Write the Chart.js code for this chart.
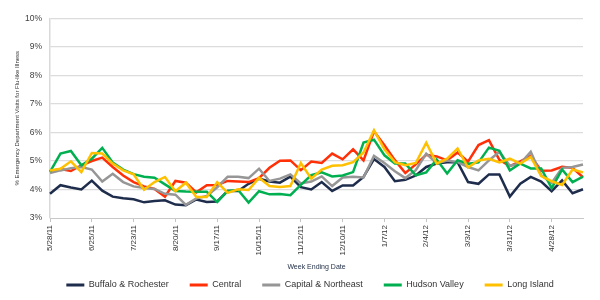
<!DOCTYPE html>
<html>
<head>
<meta charset="utf-8">
<script src="https://cdn.jsdelivr.net/npm/chart.js@4.4.1/dist/chart.umd.min.js"></script>
<style>
  html, body { margin: 0; padding: 0; background: #fff; }
</style>
</head>
<body>
<canvas id="fluChart" width="600" height="300"></canvas>
<script>
// week ending dates (one point per week)
const weeks = [
  '5/28/11', '6/4/11', '6/11/11', '6/18/11', '6/25/11', '7/2/11', '7/9/11', '7/16/11',
  '7/23/11', '7/30/11', '8/6/11', '8/13/11', '8/20/11', '8/27/11', '9/3/11', '9/10/11',
  '9/17/11', '9/24/11', '10/1/11', '10/8/11', '10/15/11', '10/22/11', '10/29/11', '11/5/11',
  '11/12/11', '11/19/11', '11/26/11', '12/3/11', '12/10/11', '12/17/11', '12/24/11', '12/31/11',
  '1/7/12', '1/14/12', '1/21/12', '1/28/12', '2/4/12', '2/11/12', '2/18/12', '2/25/12',
  '3/3/12', '3/10/12', '3/17/12', '3/24/12', '3/31/12', '4/7/12', '4/14/12', '4/21/12',
  '4/28/12', '5/5/12', '5/12/12', '5/19/12'
];

// % of ED visits for flu-like illness, by region
const buffaloRochester = [3.85, 4.15, 4.07, 4.0, 4.31, 3.96, 3.75, 3.69, 3.66, 3.55, 3.6, 3.62, 3.47, 3.45, 3.65, 3.56, 3.58, 3.95, 3.95, 4.2, 4.38, 4.28, 4.24, 4.45, 4.08, 4.0, 4.26, 3.95, 4.14, 4.14, 4.44, 5.07, 4.79, 4.29, 4.34, 4.49, 4.79, 4.91, 4.96, 4.96, 4.26, 4.2, 4.53, 4.53, 3.75, 4.2, 4.44, 4.28, 3.94, 4.32, 3.87, 4.01];
const central = [4.64, 4.72, 4.65, 4.85, 5.0, 5.12, 4.79, 4.49, 4.26, 4.11, 4.02, 3.75, 4.3, 4.24, 3.9, 4.15, 4.16, 4.3, 4.28, 4.26, 4.4, 4.76, 5.01, 5.02, 4.68, 4.98, 4.93, 5.26, 5.06, 5.41, 5.02, 6.04, 5.55, 5.03, 4.58, 4.88, 5.22, 5.16, 5.02, 5.3, 4.98, 5.56, 5.73, 5.04, 4.82, 4.99, 5.18, 4.66, 4.67, 4.8, 4.76, 4.43];
const capitalNortheast = [4.58, 4.67, 4.75, 4.79, 4.7, 4.28, 4.55, 4.26, 4.11, 4.05, 4.02, 3.85, 3.82, 3.46, 3.69, 3.77, 4.08, 4.45, 4.45, 4.4, 4.73, 4.3, 4.38, 4.53, 4.21, 4.28, 4.46, 4.12, 4.42, 4.45, 4.42, 5.18, 4.93, 4.64, 4.4, 4.68, 5.26, 4.92, 5.02, 4.96, 4.79, 4.67, 5.02, 5.32, 4.83, 4.91, 5.32, 4.5, 4.23, 4.76, 4.79, 4.88];
const hudsonValley = [4.62, 5.26, 5.35, 4.85, 5.08, 5.46, 4.95, 4.7, 4.54, 4.45, 4.41, 4.18, 3.95, 3.93, 3.92, 3.92, 3.56, 3.95, 3.98, 3.54, 3.94, 3.83, 3.84, 3.8, 4.16, 4.5, 4.6, 4.46, 4.49, 4.61, 5.65, 5.75, 5.2, 4.91, 4.91, 4.5, 4.6, 5.05, 4.56, 5.03, 4.9, 4.95, 5.47, 5.36, 4.67, 4.91, 4.74, 4.74, 4.05, 4.7, 4.26, 4.45];
const longIsland = [4.67, 4.73, 4.99, 4.61, 5.28, 5.26, 4.91, 4.67, 4.53, 3.99, 4.26, 4.44, 3.94, 4.24, 3.74, 3.74, 4.26, 3.88, 4.01, 3.98, 4.41, 4.12, 4.09, 4.12, 4.93, 4.38, 4.7, 4.83, 4.85, 4.96, 5.3, 6.08, 5.41, 4.96, 4.85, 4.93, 5.64, 4.91, 5.08, 5.44, 4.77, 5.02, 5.08, 4.95, 5.08, 4.91, 5.14, 4.47, 4.29, 4.16, 4.7, 4.6];

const yMin = 3;
const yMax = 10;

const series = [
  { label: 'Buffalo & Rochester', data: buffaloRochester, color: '#1f2d4d' },
  { label: 'Central', data: central, color: '#ff3008' },
  { label: 'Capital & Northeast', data: capitalNortheast, color: '#969696' },
  { label: 'Hudson Valley', data: hudsonValley, color: '#00b050' },
  { label: 'Long Island', data: longIsland, color: '#ffc000' }
];

Chart.defaults.font.family = '"Liberation Sans", Arial, sans-serif';
Chart.defaults.color = '#404040';

// keep the legend short and put it where the original one sits
const legendPlacer = {
  id: 'legendPlacer',
  beforeUpdate(chart) {
    const lg = chart.legend;
    if (lg && !lg._fixed) {
      const fit = lg.fit.bind(lg);
      lg.fit = function () { fit(); this.height = 40.5; };
      lg._fixed = true;
    }
  },
  afterLayout(chart) {
    const lg = chart.legend;
    if (lg) { lg.left = 37; lg.right = 583; }
  }
};

new Chart(document.getElementById('fluChart'), {
  type: 'line',
  data: {
    labels: weeks,
    datasets: series.map((s, i) => ({
      label: s.label,
      data: s.data,
      borderColor: s.color,
      backgroundColor: s.color,
      borderWidth: 2.5,
      pointRadius: 0,
      tension: 0,
      fill: false,
      order: series.length - i
    }))
  },
  options: {
    responsive: false,
    animation: false,
    layout: { padding: { top: 18.5, right: 17, bottom: 0, left: 0 } },
    plugins: {
      tooltip: { enabled: false },
      legend: {
        position: 'bottom',
        labels: {
          boxWidth: 18,
          boxHeight: 3,
          padding: 21,
          color: '#333',
          font: { size: 9 },
          sort: (a, b) => a.datasetIndex - b.datasetIndex,
          generateLabels: (chart) =>
            Chart.defaults.plugins.legend.labels.generateLabels(chart).map(l => ({ ...l, lineWidth: 0 }))
        }
      }
    },
    scales: {
      x: {
        offset: false,
        afterFit: (scale) => { scale.height = 41.5; },
        grid: {
          drawOnChartArea: false,
          drawTicks: true,
          tickLength: 4,
          tickColor: (ctx) => (ctx.index % 4 === 0 ? '#c4c4c4' : 'rgba(0,0,0,0)')
        },
        border: { display: true, color: '#c8c8c8', dash: [2, 2], width: 1 },
        ticks: {
          autoSkip: false,
          minRotation: 90,
          maxRotation: 90,
          padding: 3,
          color: '#333',
          font: { size: 8 },
          callback: function (val, i) { return i % 4 === 0 ? this.getLabelForValue(val) : ''; }
        },
        title: {
          display: true,
          text: 'Week Ending Date',
          color: '#243249',
          font: { size: 7 },
          padding: { top: 0, bottom: -11.7 }
        }
      },
      y: {
        min: yMin,
        max: yMax,
        afterFit: (scale) => { scale.width = 50; },
        grid: {
          drawTicks: false,
          lineWidth: 1.2,
          color: (ctx) => (ctx.tick && ctx.tick.value === yMin ? 'rgba(0,0,0,0)' : '#dcdcdc')
        },
        border: { display: true, color: '#d9d9d9', width: 1.5 },
        ticks: {
          stepSize: 1,
          padding: 8,
          color: '#404040',
          font: { size: 8.5 },
          callback: (v) => v + '%'
        },
        title: {
          display: true,
          text: '% Emergency Department Visits for Flu-like Illness',
          color: '#333',
          font: { size: 6 },
          padding: { top: 13.4, bottom: 0 }
        }
      }
    }
  },
  plugins: [legendPlacer]
});
</script>
</body>
</html>
